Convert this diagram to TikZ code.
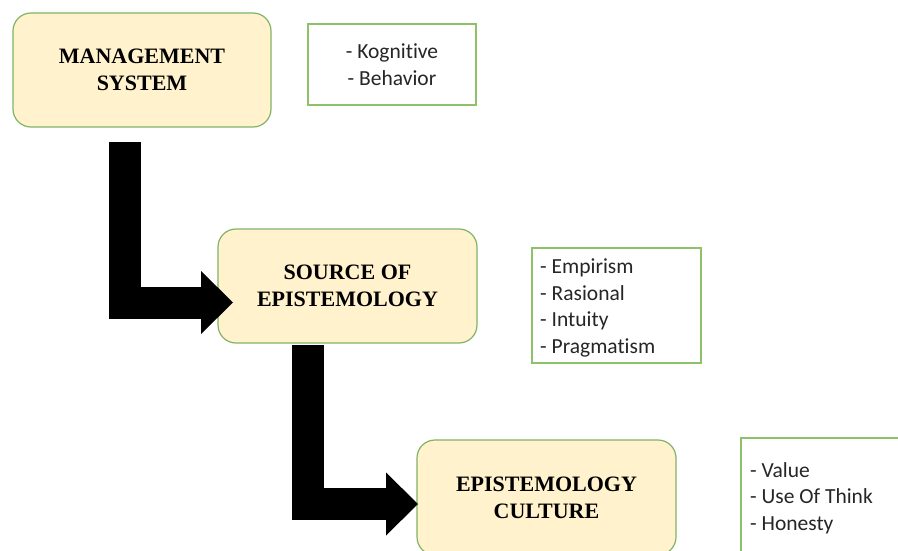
\documentclass[tikz,border=0pt]{standalone}
\usepackage{fontspec}
\setmainfont{Liberation Serif}
\newfontfamily\calib[Ligatures=NoCommon]{Carlito}
\usetikzlibrary{arrows.meta}
\definecolor{boxfill}{HTML}{FFF2CC}
\definecolor{boxline}{HTML}{82B366}
\definecolor{noteline}{HTML}{8CC26A}
\definecolor{notetxt}{HTML}{262626}
\begin{document}
\begin{tikzpicture}[x=1pt,y=-1pt,
  mainbox/.style={draw=boxline, line width=1.2pt, fill=boxfill, rounded corners=18pt,
    minimum width=259pt, minimum height=114pt, align=center, inner sep=0pt,
    text depth=-4pt, font=\fontsize{22}{27}\selectfont\bfseries},
  notebox/.style={draw=noteline, line width=1.2pt, fill=white, inner sep=0pt,
    text=notetxt, font=\calib\fontsize{21.5}{26.5}\selectfont},
  notetext/.style={inner sep=0pt, text=notetxt, align=left, font=\calib\fontsize{21.5}{26.5}\selectfont},
  bigarrow/.style={line width=32pt, line join=miter,
    -{Triangle[length=32pt,width=63pt,line width=0pt]}}]
\useasboundingbox (0,0) rectangle (898,551);
\clip (0,0) rectangle (898,551);
\fill[white] (0,0) rectangle (898,551);
% main boxes
\node[mainbox, minimum width=258pt] (b1) at (142,70) {MANAGEMENT\\SYSTEM};
\node[mainbox] (b2) at (347.5,286) {SOURCE OF\\EPISTEMOLOGY};
\node[mainbox, minimum height=115pt] (b3) at (546.5,497.5) {EPISTEMOLOGY\\CULTURE};
% note boxes
\node[notebox, minimum width=168pt, minimum height=81pt, align=center] (n1) at (392,64.5) {- Kognitive\\- Behavior};
\node[notebox, minimum width=169pt, minimum height=115pt] (n2) at (616.5,305.5) {};
\node[notetext, anchor=west] (n2t) at (540,308) {- Empirism\\- Rasional\\- Intuity\\- Pragmatism};
\node[notebox, minimum width=164pt, minimum height=127pt] (n3) at (823,501.5) {};
\node[notetext, anchor=west] (n3t) at (750,498) {- Value\\- Use Of Think\\- Honesty};
% arrows
\coordinate (a1s) at (124.5,142);
\coordinate (a1e) at (233,302.5);
\coordinate (a2s) at (307.5,345);
\coordinate (a2e) at (418,504);
\draw[bigarrow] (a1s) |- (a1e);
\draw[bigarrow] (a2s) |- (a2e);
\end{tikzpicture}
\end{document}
